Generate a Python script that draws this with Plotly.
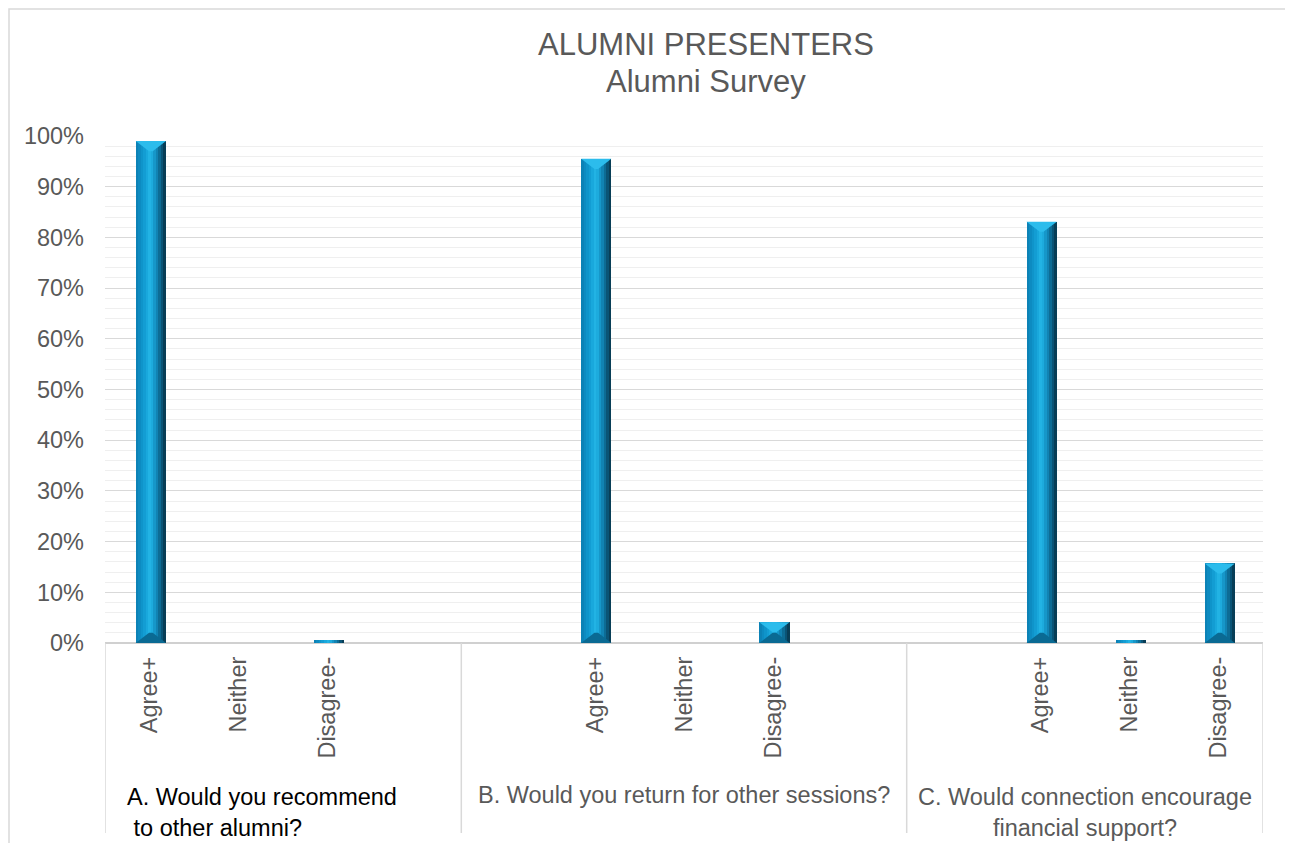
import plotly.graph_objects as go

# ---- data ----
categories = ["Agree+", "Neither", "Disagree-"]
positions_a = [0, 1, 2]
positions_b = [5, 6, 7]
positions_c = [10, 11, 12]
values_a = [0.99, 0.0, 0.005]
values_b = [0.955, 0.0, 0.041]
values_c = [0.831, 0.005, 0.157]
group_labels = ["A. Would you recommend<br> to other alumni?",
                "B. Would you return for other sessions?",
                "C. Would connection encourage<br>financial support?"]
title_lines = ["ALUMNI PRESENTERS", "Alumni Survey"]
y_ticks = [i / 10 for i in range(11)]

xs = positions_a + positions_b + positions_c
ys = values_a + values_b + values_c
labels = categories * 3

FONT = "Liberation Sans, Arial, sans-serif"
GRAY = "#595959"

# page offset (body margin) is 8px; plot area spans px 105..1263 x 136..643
PL, PR, PT, PB = 105, 1263, 136, 643
PW, PH = PR - PL, PB - PT


def px_x(p):
    return (p - PL) / PW


def px_y(p):
    return (PB - p) / PH


fig = go.Figure()

bar_w = 0.34
stripe_colors = ["#0C82B6", "#0D8BC1", "#0F94CA", "#139DD3", "#19A8DC", "#22B3E4",
                 "#1DABDD", "#1697C9", "#1183B3", "#0D6C95", "#0A5476", "#083E57"]
n = len(stripe_colors)
sw = bar_w / n
for i, c in enumerate(stripe_colors):
    fig.add_trace(go.Bar(
        x=xs, y=ys, width=[sw * 1.03] * len(xs), offset=-bar_w / 2 + i * sw + 0.015,
        marker=dict(color=c, line=dict(width=0)),
        showlegend=False, hoverinfo="skip" if i else "y",
    ))

shapes = []
depth = 0.02
for x, v in zip(xs, ys):
    xc = x + 0.015
    if v > 0.03:
        shapes.append(dict(type="path", xref="x", yref="y",
                           path=f"M {xc-bar_w/2} {v} L {xc+bar_w/2} {v} L {xc+0.02} {v-depth} L {xc-0.02} {v-depth} Z",
                           fillcolor="#2CBCEC", line=dict(width=0), layer="above"))
        shapes.append(dict(type="path", xref="x", yref="y",
                           path=f"M {xc-bar_w/2} 0 L {xc+bar_w/2} 0 L {xc+0.02} {depth} L {xc-0.02} {depth} Z",
                           fillcolor="#0A6A93", line=dict(width=0), layer="above"))

ybot = px_y(833)
for xd in [-0.5, 3.5, 8.5, 12.5]:
    shapes.append(dict(type="line", xref="x", yref="paper", x0=xd, x1=xd, y0=0, y1=ybot,
                       line=dict(color="#D9D9D9", width=1.5)))

shapes.append(dict(type="rect", xref="paper", yref="paper",
                   x0=px_x(9), x1=px_x(1291), y0=px_y(860), y1=px_y(9),
                   line=dict(color="#D9D9D9", width=1.5), fillcolor="rgba(0,0,0,0)", layer="below"))

annotations = [
    dict(text=title_lines[0], xref="paper", yref="paper", x=px_x(706), y=px_y(45),
         xanchor="center", yanchor="middle", showarrow=False,
         font=dict(family=FONT, size=31, color=GRAY)),
    dict(text=title_lines[1], xref="paper", yref="paper", x=px_x(706), y=px_y(82),
         xanchor="center", yanchor="middle", showarrow=False,
         font=dict(family=FONT, size=31, color=GRAY)),
    dict(text=group_labels[0], xref="paper", yref="paper", x=px_x(125), y=px_y(812),
         xanchor="left", yanchor="middle", align="left", showarrow=False,
         font=dict(family=FONT, size=23.5, color="#000000")),
    dict(text=group_labels[1], xref="x", yref="paper", x=6.0, y=px_y(795),
         xanchor="center", yanchor="middle", showarrow=False,
         font=dict(family=FONT, size=23.5, color=GRAY)),
    dict(text=group_labels[2], xref="x", yref="paper", x=10.5, y=px_y(812),
         xanchor="center", yanchor="middle", align="center", showarrow=False,
         font=dict(family=FONT, size=23.5, color=GRAY)),
]

W, H = 1285, 835
fig.update_layout(
    width=W, height=H,
    margin=dict(l=PL - 8, r=W + 8 - PR, t=PT - 8, b=H + 8 - PB),
    paper_bgcolor="white", plot_bgcolor="white",
    barmode="overlay", bargap=0,
    shapes=shapes, annotations=annotations,
    font=dict(family=FONT, color=GRAY),
)
fig.update_xaxes(
    range=[-0.5, 12.5], tickmode="array", tickvals=xs, ticktext=labels,
    tickangle=-90, tickfont=dict(family=FONT, size=23.5, color=GRAY),
    showgrid=False, zeroline=False, showline=False, ticks="", ticklabelstandoff=8,
)
fig.update_yaxes(
    range=[0, 1.0], tickmode="array", tickvals=y_ticks, tickformat=".0%",
    tickfont=dict(family=FONT, size=23.5, color=GRAY),
    showgrid=True, gridcolor="#D9D9D9", gridwidth=1.2,
    minor=dict(dtick=0.02, showgrid=True, gridcolor="#EFEFEF", gridwidth=1),
    zeroline=True, zerolinecolor="#D0D0D0", zerolinewidth=1.5,
    showline=False, ticks="", ticklabelstandoff=20,
)

fig.write_html("out.html")
